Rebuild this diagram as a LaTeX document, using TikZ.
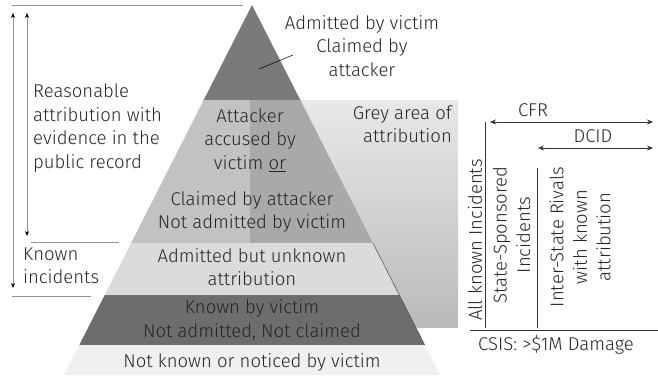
\documentclass[tikz,border=0pt]{standalone}
\usepackage{fontspec}
\setmainfont{Fira Sans}[UprightFont=* Light]
\usetikzlibrary{arrows.meta,positioning,calc}

\definecolor{csucs}{HTML}{7A7A7A}
\definecolor{vadbal}{HTML}{C2C2C2}
\definecolor{vadjobb}{HTML}{A9A9A9}
\definecolor{bevallott}{HTML}{DBDBDB}
\definecolor{ismert}{HTML}{6D6D6D}
\definecolor{alap}{HTML}{F0F0F0}

\begin{document}
\begin{tikzpicture}[x=1pt,y=-1pt,
txt/.style={font=\fontsize{18.5}{23.5}\selectfont,align=center,inner sep=0pt,text=black!85},
vonal/.style={draw=gray!85,line width=0.7pt},
nyil/.style={draw=gray!85,line width=0.7pt,{Stealth[length=5pt,width=4pt,black]}-{Stealth[length=5pt,width=4pt,black]}},
skala/.style={draw=black!80,line width=0.7pt,{Stealth[length=6pt,width=5pt]}-{Stealth[length=6pt,width=5pt]}}]

\useasboundingbox (0,0) rectangle (658,375);

% szurke terulet
\shade[top color=black!9,bottom color=black!27] (250,100) rectangle (458,327);

% piramis szintjei
\fill[csucs] (252,5) -- (300.3,100) -- (203.7,100) -- cycle;
\fill[vadbal] (203.7,100) -- (250,100) -- (250,243) -- (131.1,243) -- cycle;
\fill[vadjobb] (250,100) -- (300.3,100) -- (372.9,243) -- (250,243) -- cycle;
\fill[bevallott] (131.1,243) -- (372.9,243) -- (399.3,295) -- (104.7,295) -- cycle;
\fill[ismert] (104.7,295) -- (399.3,295) -- (424.7,345) -- (79.3,345) -- cycle;
\fill[alap] (79.3,345) -- (424.7,345) -- (440,375) -- (64,375) -- cycle;
\draw[gray!60!black,line width=0.5pt] (372.9,243) -- (424.7,345);

% feliratok a piramisban
\node[txt] (csucsfelirat) at (362,46) {Admitted by victim\\Claimed by\\attacker};
\coordinate (mutato) at (259,69);
\draw[black,line width=0.5pt] (mutato) -- (293,55);
\node[txt] (vad) at (250,140) {Attacker\\accused by\\victim \underline{or}};
\node[txt] (allitott) at (252,212) {Claimed by attacker\\Not admitted by victim};
\node[txt] (ismeretlen) at (252,267) {Admitted but unknown\\attribution};
\node[txt] (aldozat) at (252,320) {Known by victim\\Not admitted, Not claimed};
\node[txt] (nemismert) at (252,362) {Not known or noticed by victim};
\node[txt,align=right,anchor=east] (szurke) at (452,124) {Grey area of\\attribution};

% bal oldali jelolesek
\coordinate (fent) at (12,5);
\coordinate (fentv) at (243,5);
\draw[vonal] (fent) -- (fentv);
\draw[vonal] (31,242) coordinate (k1) -- (119,242) coordinate (k2);
\draw[vonal] (12,296) coordinate (k3) -- (91,296) coordinate (k4);
\coordinate (n1f) at (13,13);
\coordinate (n1a) at (13,288);
\coordinate (n2f) at (27,13);
\coordinate (n2a) at (27,236);
\draw[nyil] (n1f) -- (n1a);
\draw[nyil] (n2f) -- (n2a);
\node[txt,align=left,anchor=west] (bizonyitek) at (33,128) {Reasonable\\attribution with\\evidence in the\\public record};
\node[txt,align=left,anchor=west] (ismertek) at (23,266) {Known\\incidents};

% jobb oldali skala
\coordinate (cfrb) at (490,122);
\coordinate (cfrj) at (653,122);
\coordinate (dcidb) at (538,148);
\coordinate (dcidj) at (653,148);
\draw[skala] (cfrb) -- (cfrj);
\draw[skala] (dcidb) -- (dcidj);
\node[txt] (cfr) at (533,110) {CFR};
\node[txt] (dcid) at (593,136) {DCID};
\draw[draw=black!80,line width=0.7pt] (485,122) coordinate (f1) -- (485,328) coordinate (a1);
\draw[draw=black!80,line width=0.7pt] (537,168) coordinate (f2) -- (537,328) coordinate (a2);
\draw[draw=black!80,line width=0.7pt] (470,330) coordinate (t1) -- (658,330) coordinate (t2);
\node[txt,rotate=90] (osszes) at (475,240) {All known Incidents};
\node[txt,rotate=90] (allami) at (511.5,235) {State-Sponsored\\Incidents};
\node[txt,rotate=90] (rivalis) at (580,237) {Inter-State Rivals\\with known\\attribution};
\node[txt] (csis) at (556,345) {CSIS: >\$1M Damage};
\end{tikzpicture}
\end{document}
